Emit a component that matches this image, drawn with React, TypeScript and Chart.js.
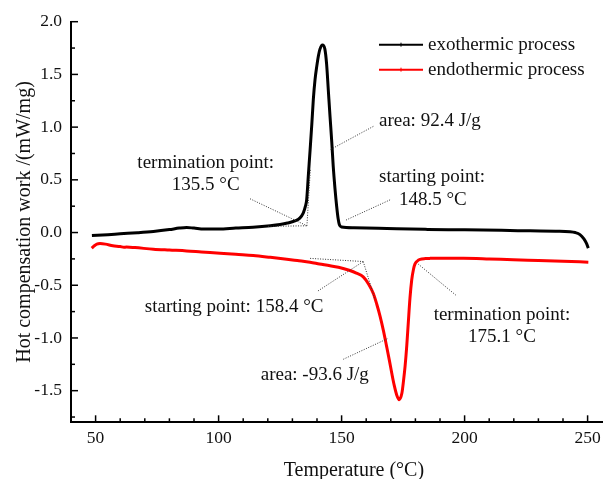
import React, { useEffect, useRef } from "react";
import { Chart, registerables } from "chart.js";

Chart.register(...registerables);

// ---- data ----
const exoX = [48.5, 55, 60, 67, 73.5, 80, 84, 87, 90, 94, 100, 107, 114, 121, 125, 128, 131, 133, 134.4, 135.3, 135.8, 136.5, 137.2, 137.9, 138.5, 139.2, 139.9, 140.6, 141.2, 142.2, 143.2, 143.9, 144.6, 145.3, 146.0, 146.6, 147.3, 148.0, 148.6, 149.1, 150, 155, 165, 172.4, 185, 199.5, 215, 226.6, 237, 242.8, 245, 246.9, 248.5, 249.5, 250.3];
const exoY = [-0.028, -0.02, -0.012, -0.002, 0.01, 0.028, 0.042, 0.048, 0.042, 0.033, 0.033, 0.042, 0.05, 0.064, 0.076, 0.09, 0.11, 0.137, 0.184, 0.25, 0.31, 0.55, 0.785, 1.03, 1.26, 1.45, 1.576, 1.68, 1.74, 1.78, 1.74, 1.6, 1.35, 1.1, 0.86, 0.627, 0.42, 0.247, 0.13, 0.073, 0.052, 0.045, 0.04, 0.035, 0.03, 0.026, 0.021, 0.016, 0.012, 0.008, 0.0, -0.02, -0.06, -0.1, -0.148];

const endoX = [48.4, 49.5, 50.5, 51.8, 54, 57, 60, 61.5, 62.5, 66, 73.5, 80, 87, 93, 100.6, 107, 114.1, 121, 127.7, 132, 137.2, 141, 145.3, 148.7, 151, 153.4, 156, 158.8, 161, 162.9, 164.3, 165.6, 167, 168.3, 169.4, 170.4, 171.4, 172.4, 173.4, 174.5, 175.2, 175.8, 176.5, 177.1, 177.8, 178.5, 179.2, 179.8, 180.8, 181.9, 184, 186, 199.5, 210, 219.8, 230, 240, 250.3];
const endoY = [-0.148, -0.125, -0.11, -0.105, -0.11, -0.125, -0.133, -0.14, -0.138, -0.143, -0.158, -0.166, -0.174, -0.184, -0.196, -0.207, -0.218, -0.235, -0.253, -0.266, -0.282, -0.298, -0.315, -0.33, -0.343, -0.36, -0.385, -0.42, -0.49, -0.578, -0.68, -0.79, -0.93, -1.08, -1.21, -1.335, -1.45, -1.54, -1.585, -1.525, -1.4, -1.27, -1.07, -0.86, -0.62, -0.45, -0.35, -0.3, -0.27, -0.255, -0.247, -0.245, -0.243, -0.25, -0.259, -0.265, -0.272, -0.281];

const seriesNames = ["exothermic process", "endothermic process"];
const seriesColors = ["#000000", "#ff0000"];

const xMajorTicks = [50, 100, 150, 200, 250];
const xMinorTicks = [60, 70, 80, 90, 110, 120, 130, 140, 160, 170, 180, 190, 210, 220, 230, 240, 260];
const yMajorTicks = [-1.5, -1.0, -0.5, 0.0, 0.5, 1.0, 1.5, 2.0];
const yMinorTicks = [-1.75, -1.25, -0.75, -0.25, 0.25, 0.75, 1.25, 1.75];

const xTitle = "Temperature (°C)";
const yTitle = "Hot compensation work /(mW/mg)";

// dotted construction / pointer lines in data coordinates [x1, y1, x2, y2]
const guideLines = [
  [112.8, 0.32, 135.9, 0.064],
  [120.1, 0.059, 135.9, 0.064],
  [135.9, 0.064, 137.3, 0.6],
  [162.9, 1.007, 145.3, 0.785],
  [169.7, 0.31, 151.4, 0.114],
  [137.2, -0.245, 158.8, -0.275],
  [158.8, -0.275, 163.6, -0.639],
  [140.4, -0.554, 158.8, -0.275],
  [150.7, -1.202, 169.0, -1.003],
  [181.2, -0.3, 196.8, -0.601],
];

// annotation texts: [text, x, y, align]
const notes: [string, number, number, CanvasTextAlign][] = [
  ["termination point:", 94.75, 0.662, "center"],
  ["135.5 °C", 94.75, 0.453, "center"],
  ["area: 92.4 J/g", 165.2, 1.054, "left"],
  ["starting point:", 165.2, 0.529, "left"],
  ["148.5 °C", 173.3, 0.311, "left"],
  ["starting point: 158.4 °C", 106.3, -0.706, "center"],
  ["area: -93.6 J/g", 139.1, -1.351, "center"],
  ["termination point:", 215.2, -0.782, "center"],
  ["175.1 °C", 215.2, -0.991, "center"],
];

// legend anchor in data coordinates
const legendLineX = [165.2, 183.1];
const legendTextX = 185.1;
const legendY = [1.782, 1.545];

const SERIF = '"Liberation Serif", "Times New Roman", serif';

const overlayPlugin = {
  id: "overlay",
  afterDraw(chart: any) {
    const { ctx, scales, chartArea } = chart;
    const xs = scales.x;
    const ys = scales.y;
    ctx.save();
    // inward tick marks
    ctx.strokeStyle = "#000";
    ctx.lineWidth = 1.5;
    const xb = chartArea.bottom;
    const yl = chartArea.left;
    const tickX = (vals: number[], len: number) => {
      vals.forEach((v) => {
        const p = xs.getPixelForValue(v);
        ctx.beginPath();
        ctx.moveTo(p, xb);
        ctx.lineTo(p, xb - len);
        ctx.stroke();
      });
    };
    const tickY = (vals: number[], len: number) => {
      vals.forEach((v) => {
        const p = ys.getPixelForValue(v);
        ctx.beginPath();
        ctx.moveTo(yl, p);
        ctx.lineTo(yl + len, p);
        ctx.stroke();
      });
    };
    tickX(xMajorTicks, 7);
    tickX(xMinorTicks, 4);
    tickY(yMajorTicks, 7);
    tickY(yMinorTicks, 4);

    // dotted guide lines
    ctx.strokeStyle = "#333";
    ctx.lineWidth = 1;
    ctx.setLineDash([1, 1.5]);
    guideLines.forEach(([x1, y1, x2, y2]) => {
      ctx.beginPath();
      ctx.moveTo(xs.getPixelForValue(x1), ys.getPixelForValue(y1));
      ctx.lineTo(xs.getPixelForValue(x2), ys.getPixelForValue(y2));
      ctx.stroke();
    });
    ctx.setLineDash([]);

    // annotation texts
    ctx.fillStyle = "#111";
    ctx.font = `19px ${SERIF}`;
    ctx.textBaseline = "middle";
    notes.forEach(([t, x, y, a]) => {
      ctx.textAlign = a;
      ctx.fillText(t, xs.getPixelForValue(x), ys.getPixelForValue(y));
    });

    // legend
    seriesNames.forEach((name, i) => {
      const py = ys.getPixelForValue(legendY[i]);
      const x1 = xs.getPixelForValue(legendLineX[0]);
      const x2 = xs.getPixelForValue(legendLineX[1]);
      ctx.strokeStyle = seriesColors[i];
      ctx.lineWidth = 2;
      ctx.beginPath();
      ctx.moveTo(x1, py);
      ctx.lineTo(x2, py);
      ctx.stroke();
      ctx.lineWidth = 1;
      ctx.beginPath();
      ctx.moveTo((x1 + x2) / 2, py - 2);
      ctx.lineTo((x1 + x2) / 2, py + 2);
      ctx.stroke();
      ctx.fillStyle = "#111";
      ctx.textAlign = "left";
      ctx.fillText(name, xs.getPixelForValue(legendTextX), py);
    });
    ctx.restore();
  },
};

export default function App() {
  const ref = useRef<HTMLCanvasElement | null>(null);
  useEffect(() => {
    if (!ref.current) return;
    const chart = new Chart(ref.current, {
      type: "line",
      data: {
        datasets: [
          {
            label: seriesNames[0],
            data: exoX.map((x, i) => ({ x, y: exoY[i] })),
            borderColor: seriesColors[0],
            borderWidth: 3,
            pointRadius: 0,
            cubicInterpolationMode: "monotone",
          },
          {
            label: seriesNames[1],
            data: endoX.map((x, i) => ({ x, y: endoY[i] })),
            borderColor: seriesColors[1],
            borderWidth: 3,
            pointRadius: 0,
            cubicInterpolationMode: "monotone",
          },
        ],
      },
      options: {
        animation: false,
        responsive: false,
        layout: { padding: { top: 21.7, right: 3.2, left: 0, bottom: 0 } },
        plugins: { legend: { display: false }, tooltip: { enabled: false } },
        scales: {
          x: {
            type: "linear",
            min: 40,
            max: 270,
            grid: { display: false, drawTicks: false },
            border: { display: true, color: "#000", width: 2 },
            afterBuildTicks: (s: any) => {
              s.ticks = xMajorTicks.map((v) => ({ value: v }));
            },
            afterFit: (s: any) => {
              s.height = 56.7;
            },
            ticks: {
              padding: 6,
              color: "#111",
              font: { family: SERIF, size: 17.5 },
              callback: (v: any) => String(v),
            },
            title: {
              display: true,
              text: xTitle,
              color: "#111",
              font: { family: SERIF, size: 20, lineHeight: 0.8 },
              padding: { top: 0, bottom: 0 },
            },
          },
          y: {
            type: "linear",
            min: -1.8,
            max: 2.0,
            grid: { display: false, drawTicks: false },
            border: { display: true, color: "#000", width: 2 },
            afterBuildTicks: (s: any) => {
              s.ticks = yMajorTicks.map((v) => ({ value: v }));
            },
            afterFit: (s: any) => {
              s.width = 71;
            },
            ticks: {
              padding: 9,
              color: "#111",
              font: { family: SERIF, size: 17.5 },
              callback: (v: any) => Number(v).toFixed(1),
            },
            title: {
              display: true,
              text: yTitle,
              color: "#111",
              font: { family: SERIF, size: 20 },
              padding: { top: 12.7, bottom: 0 },
            },
          },
        },
      },
      plugins: [overlayPlugin],
    });
    return () => chart.destroy();
  }, []);
  return (
    <div
      style={{
        position: "fixed",
        left: 0,
        top: 0,
        width: 603,
        height: 479,
        overflow: "hidden",
        background: "#fff",
      }}
    >
      <canvas ref={ref} width={640} height={479} style={{ width: 640, height: 479, display: "block" }} />
    </div>
  );
}
